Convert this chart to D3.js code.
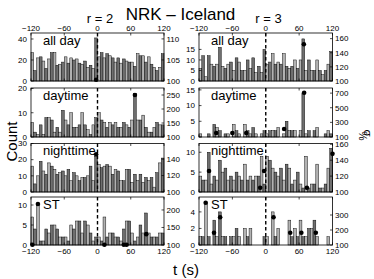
<!DOCTYPE html>
<html><head><meta charset="utf-8">
<script src="https://cdn.jsdelivr.net/npm/d3@7"></script>
<style>body{margin:0;background:#fff}svg{display:block;font-family:"Liberation Sans",Arial,sans-serif}</style>
</head><body><svg id="c" width="374" height="279"></svg>
<script>
// ---------- data ----------
const title = "NRK \u2013 Iceland";
const colNames = ["r = 2", "r = 3"];
const rowNames = ["all day", "daytime", "nighttime", "ST"];
const xTicks = [-120, -60, 0, 60, 120];
const binStarts = [-120,-115,-110,-105,-100,-95,-90,-85,-80,-75,-70,-65,-60,-55,-50,-45,-40,-35,-30,-25,-20,-15,-10,-5,
                   0,5,10,15,20,25,30,35,40,45,50,55,60,65,70,75,80,85,90,95,100,105,110,115];
const binWidth = 5;

// counts, r = 2
const countsR2AllDay = [27,10,22,23,19,12,21,27,27,15,16,18,23,17,22,20,21,17,16,19,13,15,12,41,
                        23,27,22,26,24,22,18,22,17,21,19,18,18,14,26,24,24,18,23,16,13,10,13,26];
const countsR2Day    = [6,2,1,5,1,8,8,7,2,4,2,11,7,5,10,4,4,5,10,5,3,1,5,8,
                        10,7,6,4,6,5,6,4,4,6,5,4,7,18,7,7,9,4,2,2,4,6,5,5];
const countsR2Night  = [16,5,10,19,13,11,18,16,14,11,12,13,10,14,7,12,10,7,9,9,10,16,7,22,
                        17,15,16,17,16,11,14,13,7,7,14,14,6,11,7,11,6,9,7,9,3,12,18,21];
const countsR2ST     = [7,4,10,1,1,4,3,5,5,4,2,2,2,1,5,4,6,6,3,6,5,3,1,2,
                        2,1,7,2,3,3,2,2,1,4,6,6,3,1,2,5,3,8,3,2,2,2,3,3];
// counts, r = 3
const countsR3AllDay = [6,12,2,12,8,7,8,16,7,6,8,9,5,11,9,5,5,10,6,11,4,7,4,15,
                        8,9,13,8,9,8,13,7,6,7,10,6,10,20,5,10,5,5,10,5,3,5,8,14];
const countsR3Day    = [1,0,0,1,0,4,3,2,0,1,1,0,4,2,1,0,4,2,1,3,1,0,1,2,
                        1,2,2,2,3,0,1,5,2,2,2,0,2,14,1,2,0,2,3,0,0,1,2,1];
const countsR3Night  = [4,3,3,10,2,4,3,8,5,6,3,4,3,5,4,3,7,3,4,3,4,4,9,2,
                        9,8,6,5,4,6,3,7,6,2,3,5,2,1,9,1,2,2,7,1,1,2,6,11];
const countsR3ST     = [1,1,5,1,0,3,1,4,1,1,0,1,1,2,1,0,2,1,2,0,0,0,0,1,
                        1,0,4,1,2,0,0,0,3,1,2,1,3,1,1,2,2,3,1,0,0,0,1,0];

// significance points [t, sigma %]
const sigR2AllDay = [[-2.5, 100.3]];
const sigR2Day    = [[67.5, 250]];
const sigR2Night  = [[-2.5, 146]];
const sigR2ST     = [[-117.5, 100.5], [-107.5, 217], [12.5, 100.5], [47.5, 100.5], [52.5, 100.5], [88, 131]];
const sigR3AllDay = [[68.5, 152]];
const sigR3Day    = [[-89, 155], [-60, 155], [-35, 155], [33, 209], [69, 706]];
const sigR3Night  = [[-102, 126.5], [-10, 105.4], [-3, 126.5], [74, 105.4], [120, 148]];
const sigR3ST     = [[-108, 382], [-93, 182], [-82, 285], [14, 285], [44, 182], [64, 182], [90, 182]];

// axis ranges and ticks
const leftMaxR2   = [45.7, 20.2, 30, 12];
const rightMaxR2  = [111.4, 275, 159, 237];
const leftTicksR2 = [[0,20,40],[0,10,20],[0,10,20,30],[0,5,10]];
const rightTicksR2= [[100,105,110],[100,150,200,250],[100,120,140],[100,150,200]];
const leftMaxR3   = [22.8, 15.6, 12.2, 5.8];
const rightMaxR3  = [168, 770, 161, 420];
const leftTicksR3 = [[0,5,10,15],[0,5,10,15],[0,5,10],[0,2,4]];
const rightTicksR3= [[100,120,140,160],[100,300,500,700],[100,120,140,160],[100,200,300]];

const countsByCol = [[countsR2AllDay,countsR2Day,countsR2Night,countsR2ST],[countsR3AllDay,countsR3Day,countsR3Night,countsR3ST]];
const sigByCol = [[sigR2AllDay,sigR2Day,sigR2Night,sigR2ST],[sigR3AllDay,sigR3Day,sigR3Night,sigR3ST]];
const leftMax = [leftMaxR2, leftMaxR3], rightMax = [rightMaxR2, rightMaxR3];
const leftTicks = [leftTicksR2, leftTicksR3], rightTicks = [rightTicksR2, rightTicksR3];

// ---------- layout ----------
const colX = [[31, 164], [199, 332.5]];
const rowY = [[33, 81], [88, 137], [143.5, 192], [197, 245]];
const svg = d3.select("#c");
const fmt = d => d3.format("")(d);
const LIGHT = "#b2b2b2", DARK = "#6f6f6f";

svg.append("text").attr("x", 180.5).attr("y", 20).attr("text-anchor","middle").attr("font-size",17).text(title);
svg.append("text").attr("transform","translate(17,141.5) rotate(-90)").attr("text-anchor","middle").attr("font-size",15).text("Count");
svg.append("text").attr("x",186).attr("y",275).attr("text-anchor","middle").attr("font-size",15).text("t (s)");
svg.append("text").attr("transform","translate(359,136) rotate(90)").attr("text-anchor","middle").attr("font-size",10.5).text("%");
svg.append("text").attr("transform","translate(363.5,133) rotate(90)").attr("text-anchor","middle").attr("font-size",11.5).text("\u03c3");

colNames.forEach((cn, c) => {
  const [x0, x1] = colX[c];
  const xs = d3.scaleLinear().domain([-120, 120]).range([x0, x1]);
  svg.append("text").attr("x", c === 0 ? 100 : 268.5).attr("y", c === 0 ? 23 : 22.5)
     .attr("text-anchor","middle").attr("font-size",13).text(cn);

  rowNames.forEach((rn, r) => {
    const [yt, yb] = rowY[r];
    const yL = d3.scaleLinear().domain([0, leftMax[c][r]]).range([yb, yt]);
    const yR = d3.scaleLinear().domain([100, rightMax[c][r]]).range([yb, yt]);
    const g = svg.append("g");
    const counts = countsByCol[c][r];

    g.selectAll("rect.bar").data(counts).join("rect")
      .attr("x", (d, i) => xs(binStarts[i]))
      .attr("width", (d, i) => xs(binStarts[i] + binWidth) - xs(binStarts[i]))
      .attr("y", d => yL(d))
      .attr("height", d => yb - yL(d))
      .attr("fill", (d, i) => i % 2 === 0 ? LIGHT : DARK)
      .attr("stroke", "#000").attr("stroke-width", 0.45);

    g.append("rect").attr("x", x0).attr("y", yt).attr("width", x1 - x0).attr("height", yb - yt)
      .attr("fill", "none").attr("stroke", "#000").attr("stroke-width", 0.8);

    xTicks.forEach(t => {
      g.append("line").attr("x1", xs(t)).attr("x2", xs(t)).attr("y1", yb).attr("y2", yb - 2.5).attr("stroke","#000").attr("stroke-width",0.7);
      g.append("line").attr("x1", xs(t)).attr("x2", xs(t)).attr("y1", yt).attr("y2", yt + 2.5).attr("stroke","#000").attr("stroke-width",0.7);
    });
    if (r === 0) {
      xTicks.forEach(t => g.append("text").attr("x", xs(t)).attr("y", 31).attr("text-anchor","middle").attr("font-size",8).text(fmt(t)));
    }
    if (r === 3) {
      xTicks.forEach(t => g.append("text").attr("x", xs(t)).attr("y", 254).attr("text-anchor","middle").attr("font-size",8).text(fmt(t)));
    }
    leftTicks[c][r].forEach(v => {
      g.append("line").attr("x1", x0).attr("x2", x0 + 2.5).attr("y1", yL(v)).attr("y2", yL(v)).attr("stroke","#000").attr("stroke-width",0.7);
      g.append("text").attr("x", x0 - 4).attr("y", yL(v)).attr("dy","0.35em").attr("text-anchor","end").attr("font-size",8).text(fmt(v));
    });
    rightTicks[c][r].forEach(v => {
      g.append("line").attr("x1", x1).attr("x2", x1 - 2.5).attr("y1", yR(v)).attr("y2", yR(v)).attr("stroke","#000").attr("stroke-width",0.7);
      g.append("text").attr("x", x1 + 2.5).attr("y", yR(v)).attr("dy","0.35em").attr("text-anchor","start").attr("font-size",8).text(fmt(v));
    });
    g.append("line").attr("x1", xs(0)).attr("x2", xs(0)).attr("y1", yt).attr("y2", yb)
      .attr("stroke","#000").attr("stroke-width",1.4).attr("stroke-dasharray","3.5,2.5");
    g.selectAll("circle").data(sigByCol[c][r]).join("circle")
      .attr("cx", d => xs(d[0])).attr("cy", d => yR(d[1])).attr("r", 2.3).attr("fill","#000");
    g.append("text").attr("x", x0 + 12).attr("y", yt + 11.5).attr("font-size",13).text(rn);
  });
});
</script></body></html>
